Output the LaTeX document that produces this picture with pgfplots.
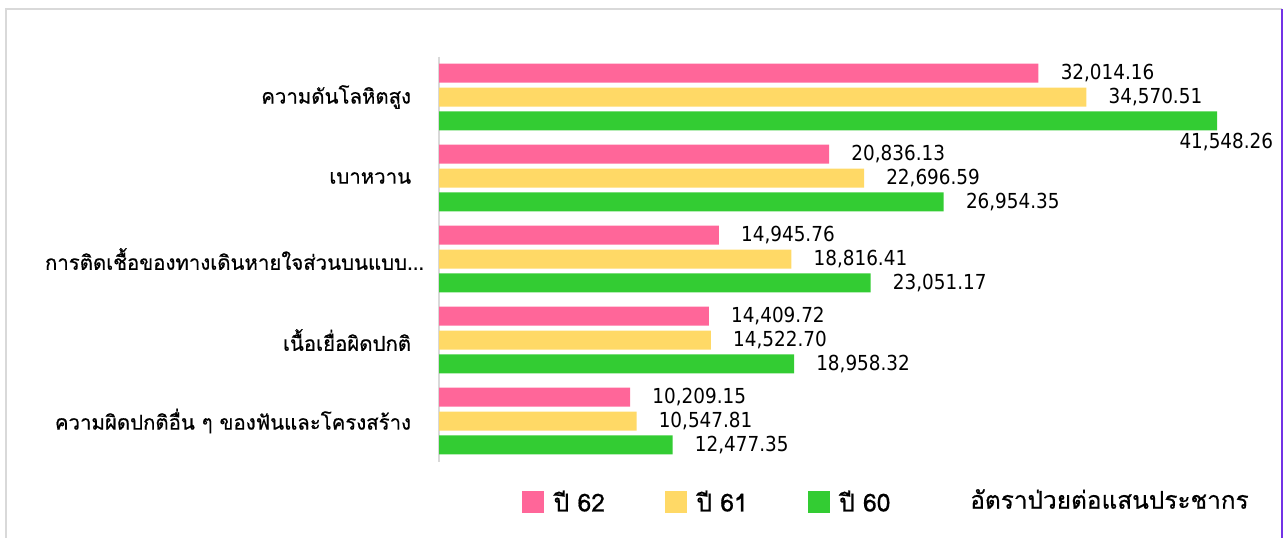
\documentclass[border=0pt]{standalone}
\usepackage{pgfplots}
\pgfplotsset{compat=1.18}
\usepackage{pgfplotstable}
\usepackage{fontspec}
\setmainfont{DejaVu Sans}[FakeStretch=0.89]
\newfontfamily\thai[Script=Thai, FakeBold=0.6]{Loma}

\definecolor{c62}{RGB}{255,102,153}
\definecolor{c61}{RGB}{255,217,102}
\definecolor{c60}{RGB}{51,204,51}
\definecolor{frame}{RGB}{217,217,217}
\definecolor{edge}{RGB}{115,50,230}

% y: category position (0 = top); shift 0.296 between series
\pgfplotstableread{
x y lab
32014.16 -0.296 32,014.16
20836.13 0.704 20,836.13
14945.76 1.704 14,945.76
14409.72 2.704 14,409.72
10209.15 3.704 10,209.15
}\tblA
\pgfplotstableread{
x y lab
34570.51 0 34,570.51
22696.59 1 22,696.59
18816.41 2 18,816.41
14522.70 3 14,522.70
10547.81 4 10,547.81
}\tblB
\pgfplotstableread{
x y lab
41548.26 0.296 {}
26954.35 1.296 26,954.35
23051.17 2.296 23,051.17
18958.32 3.296 18,958.32
12477.35 4.296 12,477.35
}\tblC

\newcommand{\gap}{\hspace*{9.75pt}}
\newcommand{\tdots}{...}

\begin{document}
\begin{tikzpicture}
\path[use as bounding box] (0,0) rectangle (965.25pt,-403.5pt);
\begin{scope}[x=0.75pt,y=-0.75pt]
  \draw[frame, line width=0.8pt] (6,538) -- (6,9) -- (1282,9);
  \draw[edge, line width=1.5pt] (1282,9) -- (1282,538);
\end{scope}
\begin{axis}[
    at={(329.25pt,-346.125pt)}, anchor=south west,
    scale only axis,
    width=583.5pt, height=303.75pt,
    xmin=0, xmax=41548.26,
    ymin=-0.5, ymax=4.5,
    y dir=reverse,
    axis x line=none,
    axis y line*=left,
    y axis line style={frame, line width=0.8pt},
    ytick={0,1,2,3,4},
    major tick length=0pt,
    yticklabels={
        {ความดันโลหิตสูง\gap},
        {เบาหวาน\gap},
        {การติดเชื้อของทางเดินหายใจส่วนบนแบบ\tdots},
        {เนื้อเยื่อผิดปกติ\gap},
        {ความผิดปกติอื่น ๆ ของฟันและโครงสร้าง\gap}},
    yticklabel style={font=\thai\fontsize{15.3}{18}\selectfont, anchor=east,
        inner sep=0pt, xshift=-11pt},
    clip=false,
    bar width=0.2346,
    nodes near coords,
    point meta=explicit symbolic,
    every node near coord/.append style={
        font=\fontsize{15.5}{18}\selectfont, anchor=west,
        inner sep=0pt, xshift=16.5pt, text=black},
    legend image code/.code={\fill[#1] (0pt,-8.6pt) rectangle (16.5pt,8.6pt);},
    legend columns=3,
    legend style={at={(0.1067,-0.1)}, anchor=west, draw=none, fill=none,
        inner sep=0pt, font=\thai\fontsize{18.5}{21}\selectfont,
        nodes={inner sep=0pt},
        /tikz/every odd column/.append style={column sep=7pt},
        /tikz/every even column/.append style={column sep=45pt}},
]
\addplot[xbar, bar shift=0pt, fill=c62, draw=none]
    table[x=x, y=y, meta=lab] {\tblA};
\addplot[xbar, bar shift=0pt, fill=c61, draw=none]
    table[x=x, y=y, meta=lab] {\tblB};
\addplot[xbar, bar shift=0pt, fill=c60, draw=none]
    table[x=x, y=y, meta=lab] {\tblC};
\legend{ปี 62, ปี 61, ปี 60}

% label of the longest bar sits below its end
\node[anchor=north, inner sep=0pt, font=\fontsize{15.5}{18}\selectfont]
    at (axis cs:41548.26,0.413) [yshift=-2pt, xshift=7pt] {41,548.26};
\node[anchor=west, inner sep=0pt, font=\thai\fontsize{18.3}{21}\selectfont]
    at (rel axis cs:0.6825,-0.0926) {อัตราป่วยต่อแสนประชากร};
\end{axis}
\end{tikzpicture}
\end{document}
